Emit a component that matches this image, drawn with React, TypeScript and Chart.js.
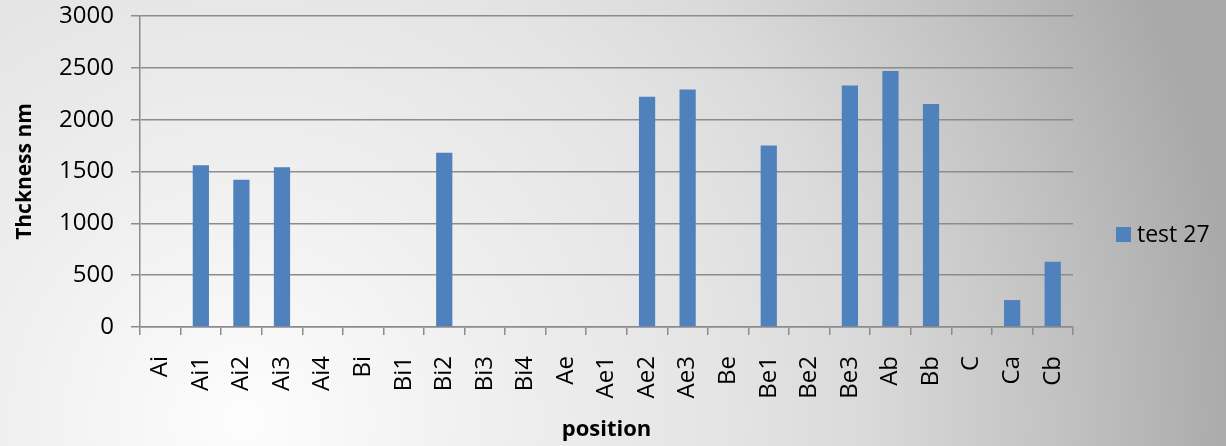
import { useEffect, useRef } from "react";
import { Chart, registerables } from "chart.js";

Chart.register(...registerables);

// Measuring positions along the sample and the film thickness at each one
const positions = [
  "Ai", "Ai1", "Ai2", "Ai3", "Ai4", "Bi", "Bi1", "Bi2", "Bi3", "Bi4",
  "Ae", "Ae1", "Ae2", "Ae3", "Be", "Be1", "Be2", "Be3", "Ab", "Bb",
  "C", "Ca", "Cb",
];
const thickness: (number | null)[] = [
  null, 1560, 1420, 1540, null, null, null, 1680, null, null,
  null, null, 2220, 2290, null, 1750, null, 2330, 2470, 2150,
  null, 260, 630,
];
const seriesName = "test 27";
const yMax = 3000;
const yStep = 500;

const FONT = "'Open Sans', 'Noto Sans', sans-serif";
const BAR_BLUE = "#4f81bd";
const AXIS_GREY = "#8c8c8c";

// Legend drawn beside the plot, vertically offset like the office-style charts
const sideLegend = {
  id: "sideLegend",
  afterDraw(chart: Chart) {
    const { ctx, chartArea } = chart;
    const ds = chart.data.datasets[0];
    const x = chartArea.right + 43;
    const cy = chart.height / 2 + 11;
    ctx.save();
    ctx.fillStyle = ds.backgroundColor as string;
    ctx.fillRect(x, cy - 7, 15, 15);
    ctx.fillStyle = "#000";
    ctx.font = `23px ${FONT}`;
    ctx.textAlign = "left";
    ctx.textBaseline = "middle";
    ctx.fillText(ds.label as string, x + 21, cy + 1);
    ctx.restore();
  },
};

export default function App() {
  const canvasRef = useRef<HTMLCanvasElement | null>(null);

  useEffect(() => {
    const canvas = canvasRef.current;
    if (!canvas) return;
    const chart = new Chart(canvas, {
      type: "bar",
      data: {
        labels: positions,
        datasets: [
          {
            label: seriesName,
            data: thickness,
            backgroundColor: BAR_BLUE,
            barPercentage: 0.4,
            categoryPercentage: 1,
          },
        ],
      },
      options: {
        responsive: false,
        animation: false,
        layout: { padding: { left: 0, right: 153, top: 0, bottom: 0 } },
        plugins: {
          legend: { display: false },
          tooltip: { enabled: false },
        },
        scales: {
          x: {
            offset: true,
            afterFit: (scale: any) => {
              scale.height = 119;
            },
            grid: {
              offset: true,
              drawOnChartArea: false,
              drawTicks: true,
              tickLength: 8,
              color: AXIS_GREY,
              lineWidth: 1.5,
            },
            border: { color: AXIS_GREY, width: 1.5 },
            ticks: {
              minRotation: 90,
              maxRotation: 90,
              autoSkip: false,
              padding: 21,
              color: "#000",
              font: { family: FONT, size: 24 },
            },
            title: {
              display: true,
              text: "position",
              color: "#000",
              font: { family: FONT, size: 22, weight: "bold" },
              padding: { top: 0, bottom: 3 },
            },
          },
          y: {
            min: 0,
            max: yMax,
            afterFit: (scale: any) => {
              scale.width = 140;
              scale.paddingTop = 16;
              scale.paddingBottom = 0;
            },
            grid: {
              color: AXIS_GREY,
              lineWidth: 1.5,
              tickLength: 9,
            },
            border: { color: AXIS_GREY, width: 1.5 },
            ticks: {
              stepSize: yStep,
              padding: 17,
              color: "#000",
              font: { family: FONT, size: 24 },
              callback: (v: any) => String(v),
            },
            title: {
              display: true,
              text: "Thckness nm",
              color: "#000",
              font: { family: FONT, size: 21, weight: "bold" },
              padding: { top: 12, bottom: 0 },
            },
          },
        },
      },
      plugins: [sideLegend],
    });
    return () => chart.destroy();
  }, []);

  return (
    <div
      style={{
        position: "absolute",
        left: 0,
        top: 0,
        width: 1226,
        height: 446,
        background:
          "radial-gradient(circle at 245px 420px, #fdfdfd 0px, #efefef 250px, #e4e4e4 480px, #dadada 620px, #c0c0c0 830px, #a8a8a8 1000px)",
      }}
    >
      <canvas ref={canvasRef} width={1226} height={446} style={{ display: "block" }} />
    </div>
  );
}
